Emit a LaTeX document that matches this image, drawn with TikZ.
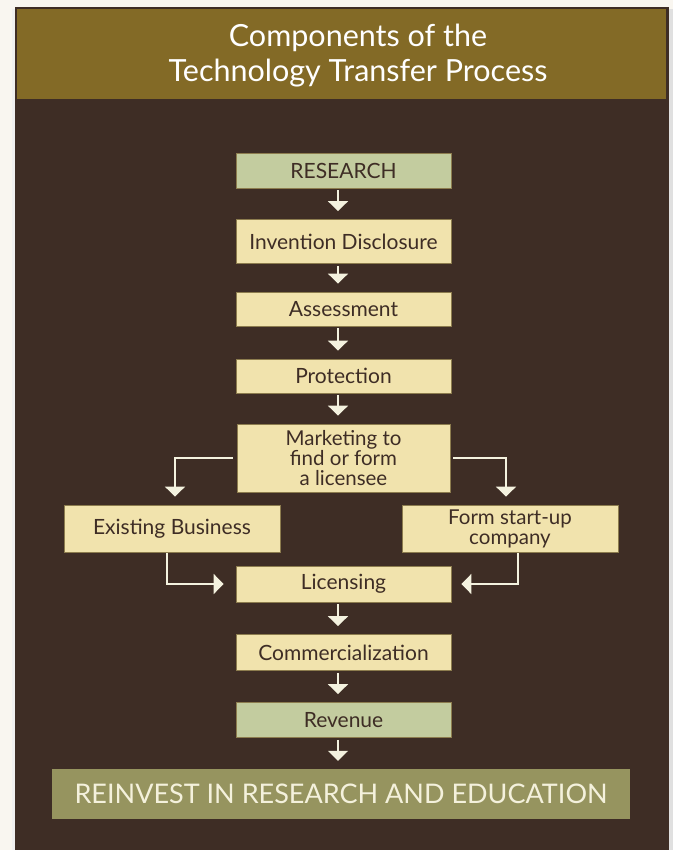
\documentclass[tikz,border=0pt]{standalone}
\usepackage{fontspec}
\setmainfont{Lato}
\usetikzlibrary{arrows.meta}
\definecolor{pagebg}{HTML}{F9F6F0}
\definecolor{panel}{HTML}{3E2D25}
\definecolor{header}{HTML}{836A26}
\definecolor{lightbox}{HTML}{F1E3AD}
\definecolor{greenbox}{HTML}{C3CC9F}
\definecolor{reinv}{HTML}{96945F}
\definecolor{boxline}{HTML}{8C7C4E}
\definecolor{arrowc}{HTML}{F4F2DF}
\definecolor{reinvtext}{HTML}{F4F1DC}
\tikzset{
  stepbox/.style={rectangle, draw=boxline, line width=0.8pt, fill=lightbox,
    text=panel, font=\fontsize{21}{22}\selectfont, align=center,
    minimum width=215pt, minimum height=35pt, inner sep=0pt},
  greenstep/.style={stepbox, fill=greenbox},
  arr/.style={draw=arrowc, line width=1.8pt,
    -{Triangle[width=20pt,length=10pt]}, shorten <=2pt, shorten >=8pt}
}
\begin{document}
\begin{tikzpicture}[x=1pt,y=-1pt]
\useasboundingbox (0,0) rectangle (673,850);
\fill[pagebg] (0,0) rectangle (673,850);
% shadows
\fill[black!12] (669,9) rectangle (673,850);
\fill[black!6] (12,9) rectangle (15,850);
% panel
\fill[panel] (15,7) rectangle (669,850);
\fill[header] (17,9) rectangle (666,99);
\node[text=white, font=\fontsize{30.5}{35}\selectfont, align=center] (title) at (358,56)
  {Components of the\\Technology Transfer Process};

\node[greenstep] (research) at (343.5,170.5) {RESEARCH};
\node[stepbox, minimum height=44pt] (invention) at (343.5,241.5) {Invention Disclosure};
\node[stepbox, minimum height=34pt] (assess) at (343.5,309) {Assessment};
\node[stepbox, minimum height=34pt] (protect) at (343.5,376) {Protection};
\node[stepbox, minimum width=213pt, minimum height=68pt,
  font=\fontsize{20.5}{20}\selectfont] (market) at (343.5,458)
  {Marketing to\\find or form\\a licensee};
\node[stepbox, minimum width=216pt, minimum height=47pt] (exist) at (172,528.5) {Existing Business};
\node[stepbox, minimum width=216pt, minimum height=47pt,
  font=\fontsize{20.5}{20}\selectfont] (form) at (510,528.5) {Form start-up\\company};
\node[stepbox, minimum height=36pt] (licens) at (343.5,584) {Licensing};
\node[stepbox, minimum height=36pt] (commerc) at (343.5,652.5) {Commercialization};
\node[greenstep, minimum height=35pt] (revenue) at (343.5,720) {Revenue};
\node[rectangle, fill=reinv, minimum width=578pt, minimum height=50pt, inner sep=0pt,
  text=reinvtext, font=\fontsize{27}{30}\selectfont] (reinvest) at (341,794)
  {REINVEST IN RESEARCH AND EDUCATION};

\draw[arr] ([xshift=-5.5pt]research.south) -- ([xshift=-5.5pt]invention.north);
\draw[arr] ([xshift=-5.5pt]invention.south) -- ([xshift=-5.5pt]assess.north);
\draw[arr] ([xshift=-5.5pt]assess.south) -- ([xshift=-5.5pt]protect.north);
\draw[arr] ([xshift=-5.5pt]protect.south) -- ([xshift=-5.5pt]market.north);
\draw[arr, shorten <=4pt] (market.west) -| ([xshift=3pt]exist.north);
\draw[arr, shorten <=3pt] (market.east) -| ([xshift=-4pt]form.north);
\draw[arr, shorten <=1pt, shorten >=12pt] ([xshift=-5pt]exist.south) |- (licens.west);
\draw[arr, shorten <=1pt, shorten >=10pt] ([xshift=8pt]form.south) |- (licens.east);
\draw[arr] ([xshift=-5.5pt]licens.south) -- ([xshift=-5.5pt]commerc.north);
\draw[arr] ([xshift=-5.5pt]commerc.south) -- ([xshift=-5.5pt]revenue.north);
\draw[arr] ([xshift=-5.5pt]revenue.south) -- ([xshift=-5.5pt]revenue.south |- reinvest.north);
\end{tikzpicture}
\end{document}
